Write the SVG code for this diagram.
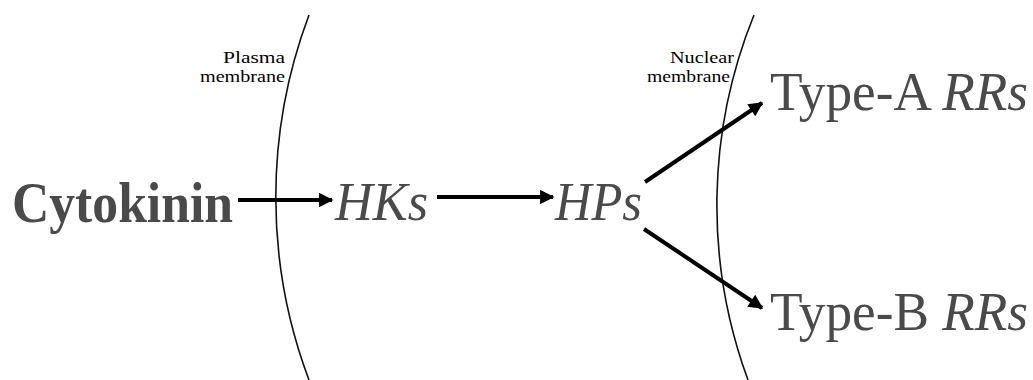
<svg xmlns="http://www.w3.org/2000/svg" width="1033" height="380" viewBox="0 0 1033 380">
<style>
.big{font-family:"Liberation Serif",serif;fill:#4a4a4a}
.it{font-style:italic}
.lbl{font-family:"Liberation Serif",serif;font-size:16px;fill:#000;text-anchor:end}
.mem{fill:none;stroke:#111;stroke-width:1.6}
.arr{stroke:#000;stroke-width:4;fill:none;marker-end:url(#ah)}
</style>
<defs>
<marker id="ah" viewBox="0 0 10 10" refX="9" refY="5" markerWidth="4" markerHeight="3.6" orient="auto" markerUnits="strokeWidth">
<path d="M0,0 L10,5 L0,10 z" fill="#000"/>
</marker>
</defs>
<g id="membranes">
<path class="mem" d="M309,15 A518,518 0 0 0 309,380"/>
<path class="mem" d="M754,15 A506,506 0 0 0 748,380"/>
</g>
<g id="plasma-label"><text class="lbl" x="285" y="63" textLength="62" lengthAdjust="spacingAndGlyphs">Plasma</text><text class="lbl" x="285" y="82" textLength="85" lengthAdjust="spacingAndGlyphs">membrane</text></g>
<g id="nuclear-label"><text class="lbl" x="734" y="63" textLength="64" lengthAdjust="spacingAndGlyphs">Nuclear</text><text class="lbl" x="730" y="82" textLength="83" lengthAdjust="spacingAndGlyphs">membrane</text></g>
<g id="cytokinin"><text class="big" x="12" y="222" font-size="56" font-weight="bold" textLength="221" lengthAdjust="spacingAndGlyphs">Cytokinin</text></g>
<g id="hks"><text class="big it" x="335" y="220" font-size="54" textLength="93" lengthAdjust="spacingAndGlyphs">HKs</text></g>
<g id="hps"><text class="big it" x="555" y="220" font-size="54" textLength="87" lengthAdjust="spacingAndGlyphs">HPs</text></g>
<g id="typea"><text class="big" x="770" y="110" font-size="54" textLength="258" lengthAdjust="spacingAndGlyphs">Type-A <tspan class="it">RRs</tspan></text></g>
<g id="typeb"><text class="big" x="770" y="330" font-size="54" textLength="258" lengthAdjust="spacingAndGlyphs">Type-B <tspan class="it">RRs</tspan></text></g>
<g id="connectors">
<line class="arr" x1="238" y1="200" x2="332" y2="200"/>
<line class="arr" x1="437" y1="197" x2="553" y2="197"/>
<line class="arr" x1="645" y1="182" x2="762" y2="103"/>
<line class="arr" x1="644" y1="229" x2="762" y2="308"/>
</g>
</svg>
